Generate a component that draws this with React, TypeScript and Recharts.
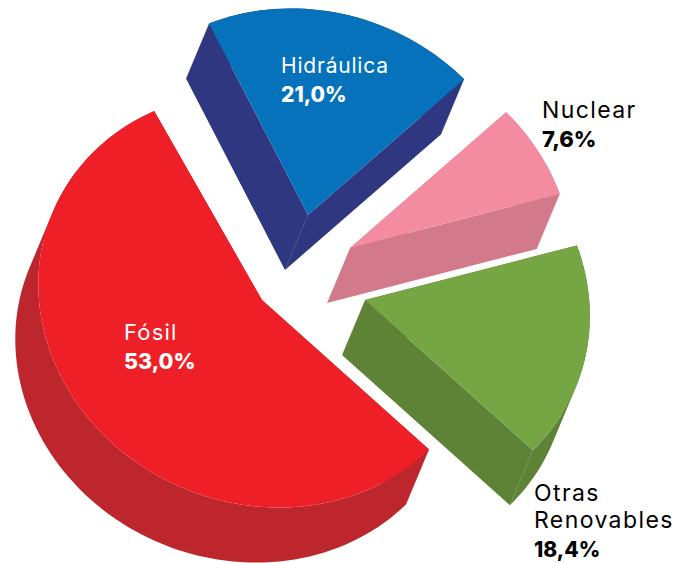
import React from 'react'
import { PieChart, Pie } from 'recharts'

const categories = ['Hidráulica', 'Nuclear', 'Otras Renovables', 'Fósil', '']
// printed on the labels
const printedPercent = ['21,0%', '7,6%', '18,4%', '53,0%', '']
// share of the disc each slice really takes up in the picture (the artwork is not quite to scale,
// and the last row is the small sliver left open behind the Fósil slice)
const drawnShare = [19.7, 7.2, 17.0, 55.4, 0.67]
const topColors = ['#0672bc', '#f48ca1', '#76a544', '#ee1f26']
const sideColors = ['#2e3780', '#d27a8c', '#5e8337', '#bc262c']
const textColors = ['#ffffff', '#000000', '#000000', '#ffffff']

const explode = [
  [46, -85],
  [88, -52],
  [103, 0],
  [0, 0],
]
const radiusScale = [0.995, 0.995, 1.005, 1]
const labelPos = [
  [281, 73],
  [542, 118],
  [534, 501],
  [124, 340],
]
const labelSize = [21, 23, 23, 22]
const labelSpacing = [0.8, 1.4, 1.4, 1.2]
const percentSize = [21, 22, 21, 21.5]

const data = categories.map((name, i) => ({ name, value: drawnShare[i] }))

const CX = 262
const CY = 300
const RADIUS = 227
const SQUASH = 204 / 227
const DEPTH = [-23, 55]
const axisLen = Math.hypot(DEPTH[0], DEPTH[1])
const minorAxis = [DEPTH[0] / axisLen, DEPTH[1] / axisLen]
const majorAxis = [minorAxis[1], -minorAxis[0]]

// the disc is tilted, so its short axis runs along the extrusion direction
const onDisc = (cx: number, cy: number, r: number, deg: number) => {
  const t = (-deg * Math.PI) / 180
  const a = r * Math.cos(t)
  const b = r * SQUASH * Math.sin(t)
  return [cx + a * majorAxis[0] + b * minorAxis[0], cy + a * majorAxis[1] + b * minorAxis[1]]
}

const Slice3D = (props: any) => {
  const { cx, cy, outerRadius, startAngle, endAngle, index } = props
  if (!categories[index]) return null
  const ox = cx + explode[index][0]
  const oy = cy + explode[index][1]
  const r = outerRadius * radiusScale[index]
  const steps = Math.ceil(Math.abs(endAngle - startAngle) / 2)
  const outline: number[][] = [[ox, oy]]
  for (let i = 0; i <= steps; i++) {
    outline.push(onDisc(ox, oy, r, startAngle + ((endAngle - startAngle) * i) / steps))
  }
  const top = outline.map((p, i) => `${i ? 'L' : 'M'}${p[0]},${p[1]}`).join(' ') + ' Z'
  // every side quad wound the same way, so one nonzero path has no seams
  const side = outline
    .map((p, i) => {
      const q = outline[(i + 1) % outline.length]
      const cross = (q[0] - p[0]) * DEPTH[1] - (q[1] - p[1]) * DEPTH[0]
      const [s, e] = cross > 0 ? [p, q] : [q, p]
      return `M${s[0]},${s[1]} L${e[0]},${e[1]} L${e[0] + DEPTH[0]},${e[1] + DEPTH[1]} L${s[0] + DEPTH[0]},${s[1] + DEPTH[1]} Z`
    })
    .join(' ')
  const creases = [outline[0], outline[1], outline[outline.length - 1]]
  return (
    <g>
      <path d={side} fill={sideColors[index]} />
      {creases.map((p, i) => (
        <line
          key={i}
          x1={p[0]}
          y1={p[1]}
          x2={p[0] + DEPTH[0]}
          y2={p[1] + DEPTH[1]}
          stroke="#ffffff"
          strokeOpacity={0.25}
          strokeWidth={0.6}
        />
      ))}
      <path d={top} fill={topColors[index]} />
    </g>
  )
}

const SliceLabel = (props: any) => {
  const { index } = props
  if (!categories[index]) return null
  const [x, y] = labelPos[index]
  const words = categories[index].split(' ')
  return (
    <text x={x} y={y} fill={textColors[index]} fontFamily="Inter, sans-serif" fontSize={labelSize[index]}>
      {words.map((w, i) => (
        <tspan key={w} x={x} y={y + i * 27} letterSpacing={labelSpacing[index]}>
          {w}
        </tspan>
      ))}
      <tspan x={x} y={y + (words.length - 1) * 27 + 29} fontWeight={800} fontSize={percentSize[index]}>
        {printedPercent[index]}
      </tspan>
    </text>
  )
}

export default function App() {
  return (
    <div style={{ position: 'absolute', left: 0, top: 0 }}>
      <PieChart width={692} height={563} margin={{ top: 0, right: 0, bottom: 0, left: 0 }}>
        <Pie
          data={data}
          dataKey="value"
          nameKey="name"
          cx={CX}
          cy={CY}
          innerRadius={0}
          outerRadius={RADIUS}
          startAngle={137}
          endAngle={-223}
          paddingAngle={0}
          stroke="none"
          isAnimationActive={false}
          shape={Slice3D}
          label={SliceLabel}
          labelLine={false}
        />
      </PieChart>
    </div>
  )
}
